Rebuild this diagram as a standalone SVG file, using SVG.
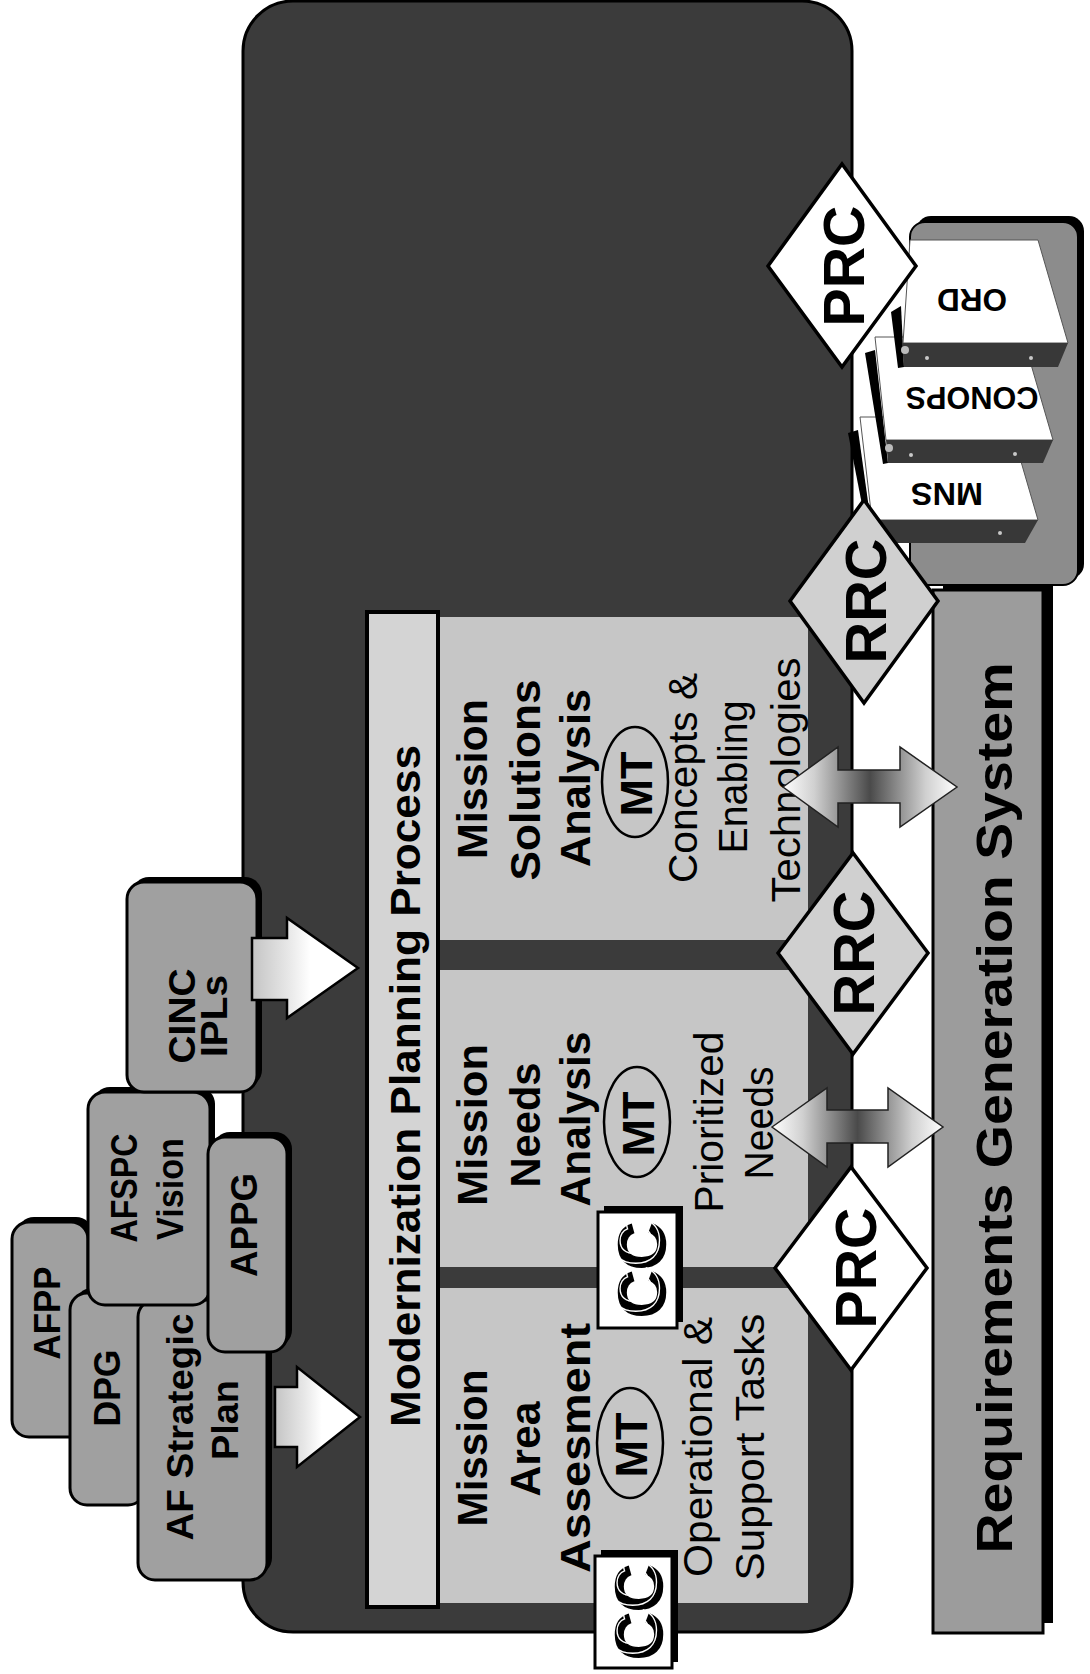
<svg xmlns="http://www.w3.org/2000/svg" width="1090" height="1674" viewBox="0 0 1090 1674">
<defs>
<style>
.b{font-family:"Liberation Sans",Arial,sans-serif;font-weight:bold;fill:#000}
.r{font-family:"Liberation Sans",Arial,sans-serif;font-weight:normal;fill:#000}
.box{fill:#a0a0a0;stroke:#000;stroke-width:3}
.sh{fill:#000}
.col{fill:#c6c6c6}
.mt{fill:none;stroke:#000;stroke-width:2.5}
.ccbox{fill:#fff;stroke:#000;stroke-width:3}
.cct{font-family:"Liberation Sans",Arial,sans-serif;font-weight:bold;fill:#000;stroke:#000;stroke-width:1.5}
.cco{font-family:"Liberation Sans",Arial,sans-serif;font-weight:bold;fill:none;stroke:#fff;stroke-width:1.3}
.dia{stroke:#000;stroke-width:3.5}
.strip{fill:#383838}
.face{fill:#fff;stroke:#555;stroke-width:1}
.dot{fill:#c8c8c8}
</style>
<linearGradient id="gin" x1="0" y1="0" x2="1" y2="0">
<stop offset="0" stop-color="#c4c4c4"/><stop offset="0.35" stop-color="#e8e8e8"/><stop offset="0.55" stop-color="#fff"/><stop offset="1" stop-color="#fff"/>
</linearGradient>
<linearGradient id="gdbl" x1="0" y1="0" x2="1" y2="0">
<stop offset="0" stop-color="#fff"/><stop offset="0.18" stop-color="#d0d0d0"/><stop offset="0.5" stop-color="#4a4a4a"/><stop offset="0.82" stop-color="#d0d0d0"/><stop offset="1" stop-color="#fff"/>
</linearGradient>
</defs>
<rect width="1090" height="1674" fill="#fff"/>

<g id="modernization-area">
<rect x="243" y="1" width="609" height="1631" rx="50" fill="#3b3b3b" stroke="#000" stroke-width="3"/>
</g>

<g id="mpp-bar">
<rect x="367" y="612" width="71" height="995" fill="#d4d4d4" stroke="#000" stroke-width="4"/>
<text class="b" font-size="43" text-anchor="middle" textLength="682" lengthAdjust="spacingAndGlyphs" transform="translate(420,1086) rotate(-90)">Modernization Planning Process</text>
</g>

<g id="mission-area-assessment">
<rect class="col" x="440" y="1288" width="368" height="315"/>
<text class="b" font-size="43" text-anchor="middle" textLength="157" lengthAdjust="spacingAndGlyphs" transform="translate(487,1448) rotate(-90)">Mission</text>
<text class="b" font-size="43" text-anchor="middle" textLength="95" lengthAdjust="spacingAndGlyphs" transform="translate(540,1449) rotate(-90)">Area</text>
<text class="b" font-size="43" text-anchor="middle" textLength="250" lengthAdjust="spacingAndGlyphs" transform="translate(590,1448) rotate(-90)">Assesment</text>
<ellipse class="mt" cx="630" cy="1443" rx="33" ry="55"/>
<text class="b" font-size="44" text-anchor="middle" textLength="65" lengthAdjust="spacingAndGlyphs" transform="translate(647,1445) rotate(-90)">MT</text>
<text class="r" font-size="41" text-anchor="middle" textLength="260" lengthAdjust="spacingAndGlyphs" transform="translate(712,1447) rotate(-90)">Operational &amp;</text>
<text class="r" font-size="41" text-anchor="middle" textLength="267" lengthAdjust="spacingAndGlyphs" transform="translate(764,1447) rotate(-90)">Support Tasks</text>
</g>

<g id="mission-needs-analysis">
<rect class="col" x="440" y="970" width="368" height="297"/>
<text class="b" font-size="43" text-anchor="middle" textLength="162" lengthAdjust="spacingAndGlyphs" transform="translate(487,1125) rotate(-90)">Mission</text>
<text class="b" font-size="43" text-anchor="middle" textLength="125" lengthAdjust="spacingAndGlyphs" transform="translate(540,1125) rotate(-90)">Needs</text>
<text class="b" font-size="43" text-anchor="middle" textLength="175" lengthAdjust="spacingAndGlyphs" transform="translate(590,1119) rotate(-90)">Analysis</text>
<ellipse class="mt" cx="637" cy="1122" rx="33" ry="55"/>
<text class="b" font-size="44" text-anchor="middle" textLength="65" lengthAdjust="spacingAndGlyphs" transform="translate(654,1124) rotate(-90)">MT</text>
<text class="r" font-size="41" text-anchor="middle" textLength="181" lengthAdjust="spacingAndGlyphs" transform="translate(723,1122) rotate(-90)">Prioritized</text>
<text class="r" font-size="41" text-anchor="middle" textLength="113" lengthAdjust="spacingAndGlyphs" transform="translate(773,1123) rotate(-90)">Needs</text>
</g>

<g id="mission-solutions-analysis">
<rect class="col" x="440" y="617" width="368" height="323"/>
<text class="b" font-size="43" text-anchor="middle" textLength="160" lengthAdjust="spacingAndGlyphs" transform="translate(487,779) rotate(-90)">Mission</text>
<text class="b" font-size="43" text-anchor="middle" textLength="201" lengthAdjust="spacingAndGlyphs" transform="translate(540,780) rotate(-90)">Solutions</text>
<text class="b" font-size="43" text-anchor="middle" textLength="178" lengthAdjust="spacingAndGlyphs" transform="translate(590,778) rotate(-90)">Analysis</text>
<ellipse class="mt" cx="635" cy="782" rx="33" ry="55"/>
<text class="b" font-size="44" text-anchor="middle" textLength="65" lengthAdjust="spacingAndGlyphs" transform="translate(652,784) rotate(-90)">MT</text>
<text class="r" font-size="41" text-anchor="middle" textLength="210" lengthAdjust="spacingAndGlyphs" transform="translate(697,778) rotate(-90)">Concepts &amp;</text>
<text class="r" font-size="41" text-anchor="middle" textLength="153" lengthAdjust="spacingAndGlyphs" transform="translate(747,777) rotate(-90)">Enabling</text>
<text class="r" font-size="41" text-anchor="middle" textLength="245" lengthAdjust="spacingAndGlyphs" transform="translate(800,780) rotate(-90)">Technologies</text>
</g>

<g id="cc-1">
<rect class="sh" x="601" y="1550" width="77" height="112"/>
<rect class="ccbox" x="595" y="1556" width="77" height="112"/>
<text class="cct" font-size="66" text-anchor="middle" textLength="96" lengthAdjust="spacingAndGlyphs" transform="translate(662,1612) rotate(-90)">CC</text>
<text class="cco" font-size="66" text-anchor="middle" textLength="96" lengthAdjust="spacingAndGlyphs" transform="translate(656,1608) rotate(-90)">CC</text>
</g>
<g id="cc-2">
<rect class="sh" x="604" y="1206" width="79" height="116"/>
<rect class="ccbox" x="598" y="1212" width="79" height="116"/>
<text class="cct" font-size="66" text-anchor="middle" textLength="96" lengthAdjust="spacingAndGlyphs" transform="translate(665,1270) rotate(-90)">CC</text>
<text class="cco" font-size="66" text-anchor="middle" textLength="96" lengthAdjust="spacingAndGlyphs" transform="translate(659,1266) rotate(-90)">CC</text>
</g>

<g id="afpp">
<rect class="sh" x="17" y="1217" width="76" height="215" rx="17"/>
<rect class="box" x="12" y="1222" width="76" height="215" rx="17"/>
<text class="b" font-size="37" text-anchor="middle" textLength="93" lengthAdjust="spacingAndGlyphs" transform="translate(60,1313) rotate(-90)">AFPP</text>
</g>
<g id="dpg">
<rect class="sh" x="75" y="1288" width="75" height="212" rx="17"/>
<rect class="box" x="70" y="1293" width="75" height="212" rx="17"/>
<text class="b" font-size="37" text-anchor="middle" textLength="77" lengthAdjust="spacingAndGlyphs" transform="translate(120,1388) rotate(-90)">DPG</text>
</g>
<g id="af-strategic-plan">
<rect class="sh" x="143" y="1295" width="129" height="280" rx="17"/>
<rect class="box" x="138" y="1300" width="129" height="280" rx="17"/>
<text class="b" font-size="37" text-anchor="middle" textLength="227" lengthAdjust="spacingAndGlyphs" transform="translate(193,1427) rotate(-90)">AF Strategic</text>
<text class="b" font-size="37" text-anchor="middle" textLength="80" lengthAdjust="spacingAndGlyphs" transform="translate(238,1420) rotate(-90)">Plan</text>
</g>
<g id="afspc-vision">
<rect class="sh" x="93" y="1087" width="122" height="213" rx="17"/>
<rect class="box" x="88" y="1092" width="122" height="213" rx="17"/>
<text class="b" font-size="37" text-anchor="middle" textLength="109" lengthAdjust="spacingAndGlyphs" transform="translate(137,1188) rotate(-90)">AFSPC</text>
<text class="b" font-size="37" text-anchor="middle" textLength="102" lengthAdjust="spacingAndGlyphs" transform="translate(183,1189) rotate(-90)">Vision</text>
</g>
<g id="appg">
<rect class="sh" x="213" y="1132" width="79" height="215" rx="17"/>
<rect class="box" x="208" y="1137" width="79" height="215" rx="17"/>
<text class="b" font-size="37" text-anchor="middle" textLength="104" lengthAdjust="spacingAndGlyphs" transform="translate(257,1225) rotate(-90)">APPG</text>
</g>
<g id="cinc-ipls">
<rect class="sh" x="132" y="877" width="130" height="210" rx="17"/>
<rect class="box" x="127" y="882" width="130" height="210" rx="17"/>
<text class="b" font-size="37" text-anchor="middle" textLength="95" lengthAdjust="spacingAndGlyphs" transform="translate(195,1016) rotate(-90)">CINC</text>
<text class="b" font-size="37" text-anchor="middle" textLength="82" lengthAdjust="spacingAndGlyphs" transform="translate(227,1016) rotate(-90)">IPLs</text>
</g>

<g id="requirements-generation-system">
<rect class="sh" x="943" y="580" width="110" height="1043"/>
<rect x="933" y="590" width="110" height="1043" fill="#9c9c9c" stroke="#000" stroke-width="3"/>
<text class="b" font-size="50" text-anchor="middle" textLength="891" lengthAdjust="spacingAndGlyphs" transform="translate(1012,1108) rotate(-90)">Requirements Generation System</text>
</g>

<g id="documents">
<rect class="sh" x="916" y="216" width="168" height="363" rx="15"/>
<rect x="910" y="222" width="168" height="363" rx="15" fill="#8c8c8c" stroke="#000" stroke-width="2"/>
<g id="mns">
<polygon points="848,433 858,430 871,523 866,525" fill="#000"/>
<polygon class="face" points="860,417 1008,417 1038,520 872,520"/>
<polygon class="strip" points="872,520 1038,520 1025,543 876,543"/>
<circle class="dot" cx="1000" cy="533" r="2"/>
<text class="b" font-size="32" text-anchor="middle" textLength="72" lengthAdjust="spacingAndGlyphs" transform="translate(947,483) rotate(180)">MNS</text>
</g>
<g id="conops">
<polygon points="865,353 875,350 888,463 883,464" fill="#000"/>
<polygon class="face" points="875,337 1023,337 1053,440 886,440"/>
<polygon class="strip" points="886,440 1053,440 1043,463 888,463"/>
<circle class="dot" cx="911" cy="455" r="2"/>
<circle class="dot" cx="1015" cy="454" r="2"/>
<circle cx="889" cy="448" r="4" fill="#bbb"/>
<text class="b" font-size="32" text-anchor="middle" textLength="133" lengthAdjust="spacingAndGlyphs" transform="translate(972,387) rotate(180)">CONOPS</text>
</g>
<g id="ord">
<polygon points="891,312 901,306 904,367 898,368" fill="#000"/>
<polygon class="face" points="910,240 1038,240 1068,343 903,343"/>
<polygon class="strip" points="902,343 1068,343 1058,367 904,367"/>
<circle class="dot" cx="927" cy="358" r="2"/>
<circle class="dot" cx="1031" cy="358" r="2"/>
<circle cx="905" cy="350" r="4" fill="#bbb"/>
<text class="b" font-size="32" text-anchor="middle" textLength="70" lengthAdjust="spacingAndGlyphs" transform="translate(972,289) rotate(180)">ORD</text>
</g>
</g>

<g id="connectors">
<polygon points="275,1387 297,1387 297,1367 360,1417 297,1467 297,1447 275,1447" fill="url(#gin)" stroke="#000" stroke-width="2.5"/>
<polygon points="252,938 287,938 287,918 358,968 287,1018 287,1000 252,1000" fill="url(#gin)" stroke="#000" stroke-width="2.5"/>
<polygon points="772,1127 827,1088 827,1110 888,1110 888,1088 943,1127 888,1167 888,1143 827,1143 827,1167" fill="url(#gdbl)" stroke="#222" stroke-width="1.5"/>
<polygon points="783,787 838,747 838,770 900,770 900,747 957,787 900,827 900,803 838,803 838,827" fill="url(#gdbl)" stroke="#222" stroke-width="1.5"/>
</g>

<g id="prc-1">
<polygon class="dia" points="775,1268 851,1167 927,1268 851,1370" fill="#fff"/>
<text class="b" font-size="58" text-anchor="middle" textLength="121" lengthAdjust="spacingAndGlyphs" transform="translate(876,1268) rotate(-90)">PRC</text>
</g>
<g id="rrc-1">
<polygon class="dia" points="778,953 853,853 928,953 853,1054" fill="#d0d0d0"/>
<text class="b" font-size="58" text-anchor="middle" textLength="125" lengthAdjust="spacingAndGlyphs" transform="translate(874,953) rotate(-90)">RRC</text>
</g>
<g id="rrc-2">
<polygon class="dia" points="790,601 864,500 938,601 864,703" fill="#d0d0d0"/>
<text class="b" font-size="58" text-anchor="middle" textLength="125" lengthAdjust="spacingAndGlyphs" transform="translate(886,601) rotate(-90)">RRC</text>
</g>
<g id="prc-2">
<polygon class="dia" points="768,266 842,164 916,266 842,367" fill="#fff"/>
<text class="b" font-size="58" text-anchor="middle" textLength="121" lengthAdjust="spacingAndGlyphs" transform="translate(864,266) rotate(-90)">PRC</text>
</g>
</svg>
